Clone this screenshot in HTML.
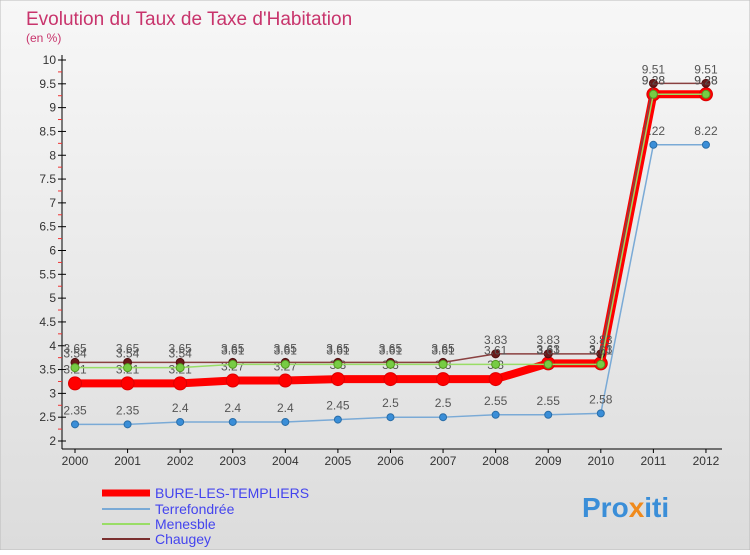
<!DOCTYPE html>
<html><head><meta charset="utf-8"><style>
body{margin:0;width:750px;height:550px;overflow:hidden;font-family:"Liberation Sans",sans-serif}
</style></head><body>
<svg width="750" height="550" xmlns="http://www.w3.org/2000/svg" id="svg">
<defs><linearGradient id="bg" x1="0" y1="0" x2="0" y2="1"><stop offset="0" stop-color="#f7f7f7"/><stop offset="1" stop-color="#dcdcdc"/></linearGradient></defs>
<rect width="750" height="550" fill="url(#bg)" stroke="#bbb"/>
<text x="26" y="25" font-size="19" fill="#c8346c">Evolution du Taux de Taxe d'Habitation</text>
<text x="26" y="42" font-size="12" fill="#c8346c">(en %)</text>
<g id="axes"></g><g id="series"></g>
<g font-size="14">
<line x1="102" y1="493" x2="150" y2="493" stroke="#f00" stroke-width="7"/><text x="155" y="498" fill="#4444ee">BURE-LES-TEMPLIERS</text>
<line x1="102" y1="509" x2="150" y2="509" stroke="#7aaad6" stroke-width="2"/><text x="155" y="514" fill="#4444ee">Terrefondrée</text>
<line x1="102" y1="524" x2="150" y2="524" stroke="#99dd66" stroke-width="2"/><text x="155" y="529" fill="#4444ee">Menesble</text>
<line x1="102" y1="539" x2="150" y2="539" stroke="#7a3030" stroke-width="2"/><text x="155" y="544" fill="#4444ee">Chaugey</text>
</g>
<text x="582" y="517" font-size="28" font-weight="bold" fill="#3a8ed8">Pro<tspan fill="#f08a1c">x</tspan>iti</text>
</svg>
<script>
const years=["2000","2001","2002","2003","2004","2005","2006","2007","2008","2009","2010","2011","2012"];
const yTicks=[2,2.5,3,3.5,4,4.5,5,5.5,6,6.5,7,7.5,8,8.5,9,9.5,10];
const terre=[2.35,2.35,2.4,2.4,2.4,2.45,2.5,2.5,2.55,2.55,2.58,8.22,8.22];
const chaugey=[3.65,3.65,3.65,3.65,3.65,3.65,3.65,3.65,3.83,3.83,3.83,9.51,9.51];
const menesble=[3.54,3.54,3.54,3.61,3.61,3.61,3.61,3.61,3.61,3.61,3.61,9.28,9.28];
const bure=[3.21,3.21,3.21,3.27,3.27,3.3,3.3,3.3,3.3,3.63,3.63,9.28,9.28];
const NS="http://www.w3.org/2000/svg";
const X=i=>75+i*52.58, Y=v=>441-(v-2)*47.625;
function mk(t,a,p){const e=document.createElementNS(NS,t);for(const k in a)e.setAttribute(k,a[k]);p.appendChild(e);return e;}
const ax=document.getElementById('axes'),sg=document.getElementById('series');
mk('line',{x1:62,y1:55,x2:62,y2:449,stroke:'#000'},ax);
mk('line',{x1:62,y1:449,x2:722,y2:449,stroke:'#000'},ax);
yTicks.forEach(v=>{mk('line',{x1:58,y1:Y(v),x2:66,y2:Y(v),stroke:'#000'},ax);
const t=mk('text',{x:56,y:Y(v)+4,'font-size':12,'text-anchor':'end',fill:'#333'},ax);t.textContent=v;

if(v<10)mk('line',{x1:58,y1:Y(v+0.25),x2:62,y2:Y(v+0.25),stroke:'#e33'},ax);});
years.forEach((y,i)=>{mk('line',{x1:X(i),y1:449,x2:X(i),y2:453,stroke:'#000'},ax);
const t=mk('text',{x:X(i),y:465,'font-size':12,'text-anchor':'middle',fill:'#333'},ax);t.textContent=y;
});
function series(d,name,col,w,r,fill,stroke,lbl){
const g=mk('g',{},sg);
mk('polyline',{points:d.map((v,i)=>X(i)+','+Y(v)).join(' '),fill:'none',stroke:col,'stroke-width':w,'stroke-linejoin':'round'},g);
d.forEach((v,i)=>{const c=mk('circle',{cx:X(i),cy:Y(v),r:r,fill:fill,stroke:stroke,'stroke-width':1},g);

if(lbl){const t=mk('text',{x:X(i),y:Y(v)-10,'font-size':12,'text-anchor':'middle',fill:'#555'},g);t.textContent=v;
}});}
series(terre,'terrefondree','#7aaad6',1.5,3.5,'#3a8ed8','#2a6ea8',true);
series(bure,'bure','#f00',8,6.5,'#f00','#d00',true);
series(chaugey,'chaugey','#8a4040',1.5,4,'#6a1a1a','#501010',true);
series(menesble,'menesble','#99dd66',1.5,4,'#77cc44','#559922',true);
</script>
</body></html>
